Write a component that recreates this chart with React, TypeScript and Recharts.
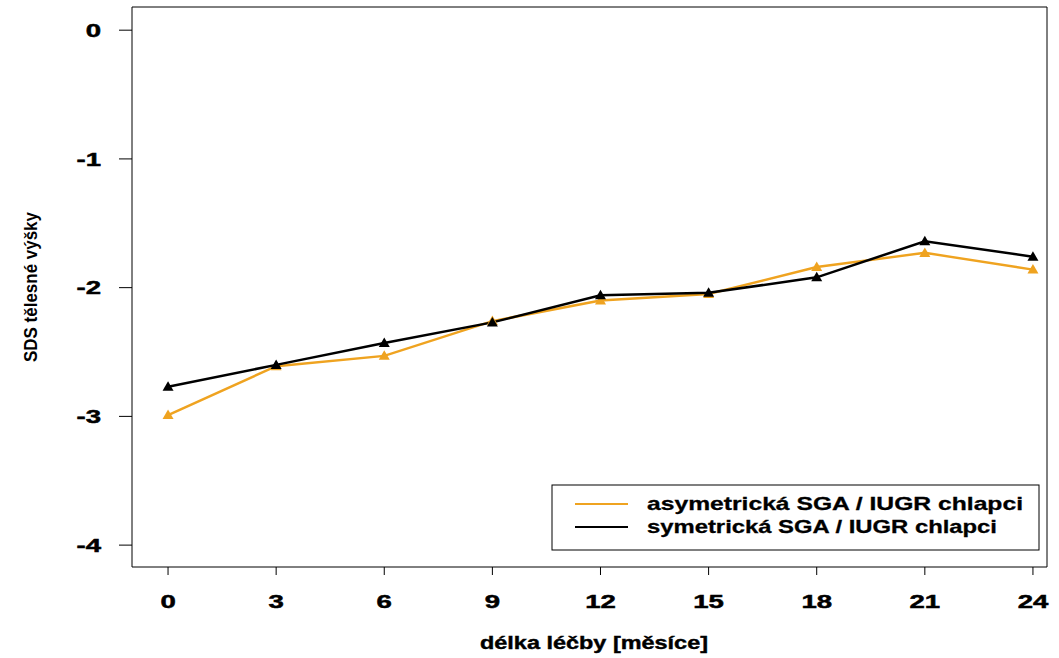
import React from 'react';
import { LineChart, Line, XAxis, YAxis, ReferenceArea } from 'recharts';

const months = [0, 3, 6, 9, 12, 15, 18, 21, 24];
const asymSds = [-2.99, -2.61, -2.53, -2.26, -2.1, -2.05, -1.84, -1.73, -1.86];
const symSds = [-2.77, -2.6, -2.43, -2.27, -2.06, -2.04, -1.92, -1.64, -1.76];
const yTicks = [0, -1, -2, -3, -4];
const seriesNames = ['asymetrická SGA / IUGR chlapci', 'symetrická SGA / IUGR chlapci'];
const xTitle = 'délka léčby [měsíce]';
const yTitle = 'SDS tělesné výšky';

const ORANGE = '#EFA320';
const FONT = '"Liberation Sans", Arial, sans-serif';
const xDomain = [-1, 24.39];
const yDomain = [-4.17, 0.18];

const data = months.map((m, i) => ({ month: m, asym: asymSds[i], sym: symSds[i] }));

const Triangle = (color: string) => (props: any) => {
  const { cx, cy, index } = props;
  if (cx == null || cy == null) return null;
  return (
    <path
      key={`tri-${color}-${index}`}
      d={`M${cx},${cy - 5.5} L${cx + 5.5},${cy + 4} L${cx - 5.5},${cy + 4} Z`}
      fill={color}
    />
  );
};

// heavy, wide digits like the original raster
const AxisTick = (dy: string) => (props: any) => {
  const { x, y, payload, textAnchor } = props;
  return (
    <g transform={`translate(${x},${y})`}>
      <text
        transform="scale(1.45,1)"
        textAnchor={textAnchor}
        dy={dy}
        fontSize={19}
        fontWeight="bold"
        fontFamily={FONT}
        fill="#000"
        stroke="#000"
        strokeWidth={0.5}
      >
        {payload.value}
      </text>
    </g>
  );
};

export default function App() {
  return (
    <div style={{ position: 'absolute', left: 0, top: 0, width: 1059, height: 658, background: '#fff' }}>
      <LineChart width={1059} height={658} data={data} margin={{ top: 7, right: 12, left: 0, bottom: 0 }}>
        <XAxis
          dataKey="month"
          type="number"
          domain={xDomain}
          ticks={months}
          allowDataOverflow
          height={91}
          axisLine={false}
          tickLine={{ stroke: '#000' }}
          tickSize={8}
          tickMargin={20}
          tick={AxisTick('0.71em')}
          interval={0}
        />
        <YAxis
          type="number"
          domain={yDomain}
          ticks={yTicks}
          allowDataOverflow
          width={132}
          axisLine={false}
          tickLine={{ stroke: '#000' }}
          tickSize={13}
          tickMargin={18}
          tick={AxisTick('0.355em')}
          interval={0}
        />
        <ReferenceArea
          x1={xDomain[0]}
          x2={xDomain[1]}
          y1={yDomain[0]}
          y2={yDomain[1]}
          fill="none"
          stroke="#000"
          strokeWidth={1}
          ifOverflow="visible"
        />
        <Line
          dataKey="asym"
          stroke={ORANGE}
          strokeWidth={2.5}
          dot={Triangle(ORANGE)}
          isAnimationActive={false}
        />
        <Line
          dataKey="sym"
          stroke="#000"
          strokeWidth={2.5}
          dot={Triangle('#000')}
          isAnimationActive={false}
        />
      </LineChart>

      {/* legend + axis titles */}
      <svg width={1059} height={658} style={{ position: 'absolute', left: 0, top: 0, pointerEvents: 'none' }}>
        <rect x={552} y={485} width={487} height={65} fill="#fff" stroke="#000" strokeWidth={1} />
        <line x1={575} x2={628} y1={504} y2={504} stroke={ORANGE} strokeWidth={2} />
        <line x1={575} x2={628} y1={527} y2={527} stroke="#000" strokeWidth={2} />
        <text x={647} y={510} fontSize={19} fontWeight="bold" fontFamily={FONT} stroke="#000" strokeWidth={0.3} textLength={376} lengthAdjust="spacingAndGlyphs">
          {seriesNames[0]}
        </text>
        <text x={647} y={533} fontSize={19} fontWeight="bold" fontFamily={FONT} stroke="#000" strokeWidth={0.3} textLength={350} lengthAdjust="spacingAndGlyphs">
          {seriesNames[1]}
        </text>
        <text x={594} y={649} textAnchor="middle" fontSize={18} fontWeight="bold" fontFamily={FONT} stroke="#000" strokeWidth={0.4} textLength={228} lengthAdjust="spacingAndGlyphs">
          {xTitle}
        </text>
        <text
          x={0}
          y={0}
          transform="translate(37,287) rotate(-90)"
          textAnchor="middle"
          fontSize={19}
          fontWeight="bold"
          fontFamily={FONT}
          textLength={150}
          lengthAdjust="spacingAndGlyphs"
        >
          {yTitle}
        </text>
      </svg>
    </div>
  );
}
